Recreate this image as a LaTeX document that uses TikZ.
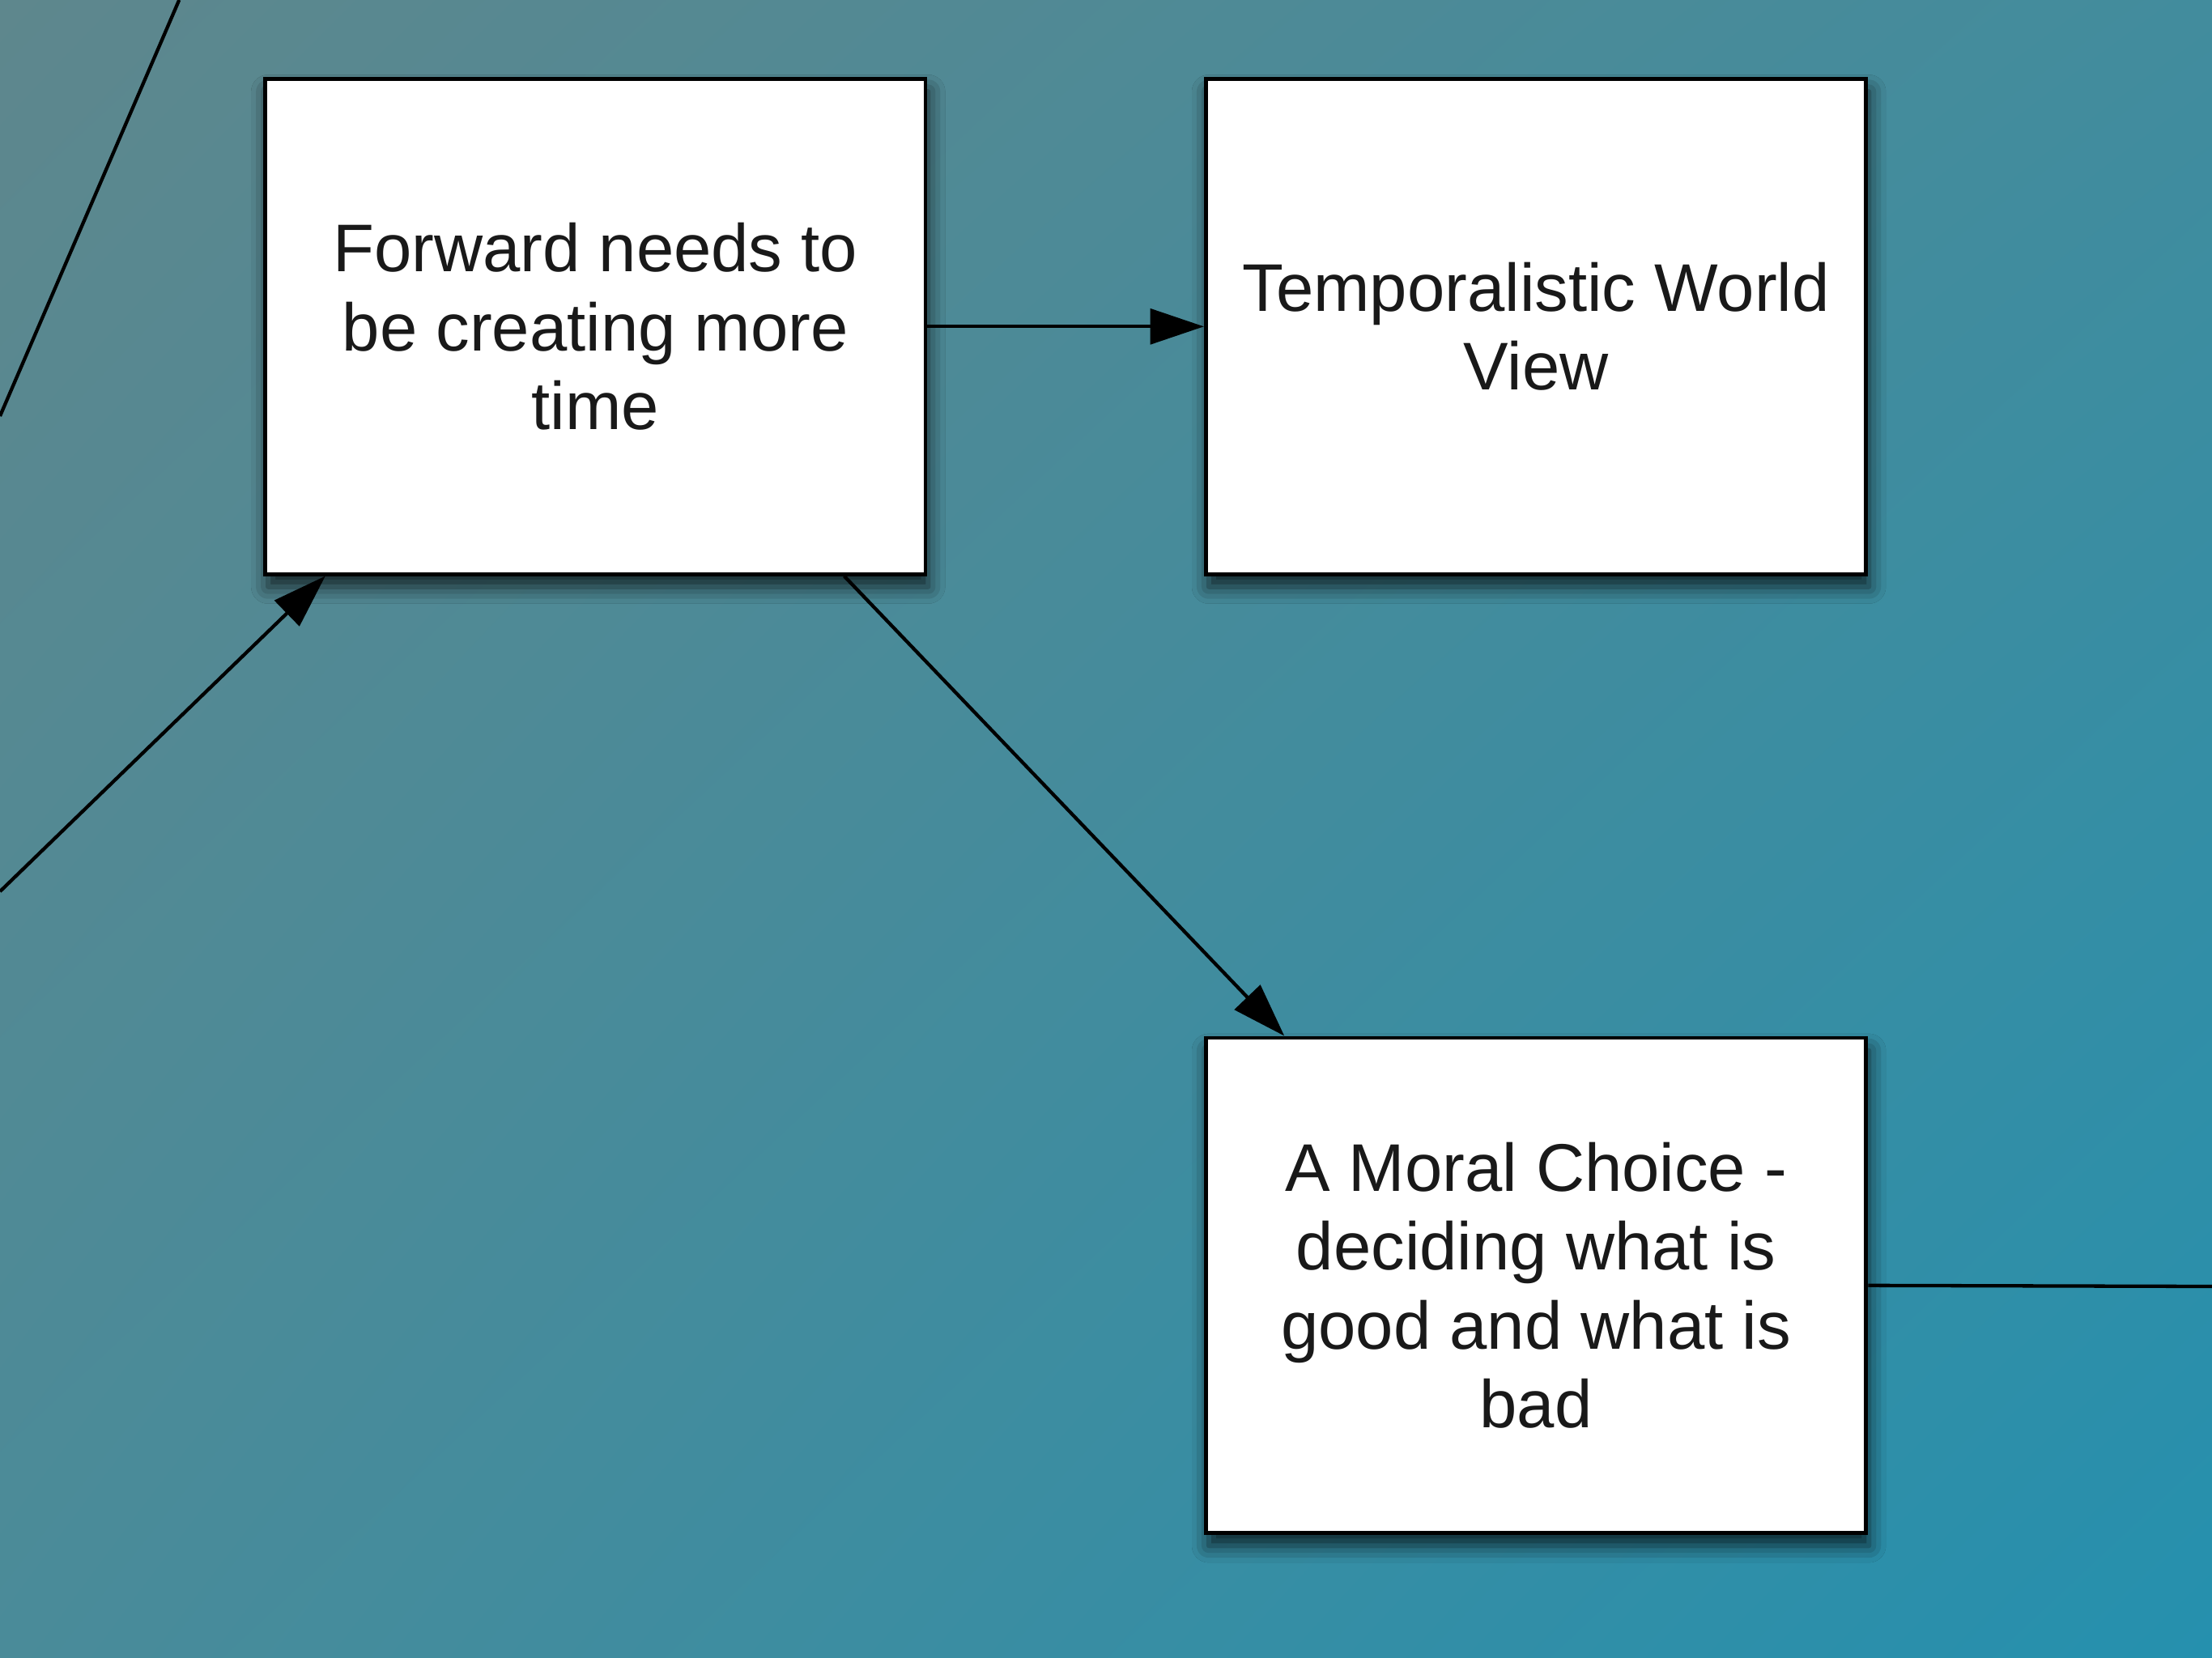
\documentclass[tikz,border=0pt]{standalone}
\usepackage{fontspec}
\setmainfont{Liberation Sans}
\usepackage{xcolor}
\usepackage{tikz}
\usetikzlibrary{arrows.meta, positioning, shadings, shadows.blur}
\definecolor{bgtl}{HTML}{5E878D}
\definecolor{bgtr}{HTML}{428C9D}
\definecolor{bgbl}{HTML}{4A8B99}
\definecolor{bgbr}{HTML}{2590AE}
\tikzstyle{idea} = [rectangle, minimum width=4.68cm, minimum height=3.51cm,
                    inner sep=0pt, align=center, draw=black, line width=0.8pt,
                    fill=white, text=black!90,
                    font=\fontsize{13.6}{15.9}\selectfont,
                    blur shadow={shadow xshift=0.02cm, shadow yshift=-0.09cm,
                                 shadow blur radius=0.12cm, shadow opacity=75}]
\tikzstyle{link} = [line width=0.7pt, draw=black]
\tikzstyle{arrow} = [link, -{Triangle[length=0.38cm, width=0.25cm]}]

\begin{document}
\begin{tikzpicture}

\useasboundingbox (0,0) rectangle (15.68,11.75);
\shade[upper left=bgtl, upper right=bgtr, lower left=bgbl, lower right=bgbr]
  (0,0) rectangle (15.68,11.75);

\node (fwd)   [idea] at (4.22,9.435) {Forward needs to\\be creating more\\time};
\node (temp)  [idea, right=1.96cm of fwd]  {Temporalistic World\\View};
\node (moral) [idea, below=3.26cm of temp] {A Moral Choice -\\deciding what is\\good and what is\\bad};

% loose ends running off the page
\coordinate (topin)   at (1.27,11.75);
\coordinate (topout)  at (0,8.80);
\coordinate (leftin)  at (0,5.43);
\coordinate (rightout) at (15.68,2.63);

\draw [link]  (topin) -- (topout);
\draw [arrow] (leftin) -- ([xshift=0.44cm]fwd.south west);
\draw [arrow] (fwd) -- (temp);
\draw [arrow] ([xshift=-0.59cm]fwd.south east) -- ([xshift=0.57cm]moral.north west);
\draw [link]  (moral.east) -- (rightout);

\end{tikzpicture}
\end{document}
